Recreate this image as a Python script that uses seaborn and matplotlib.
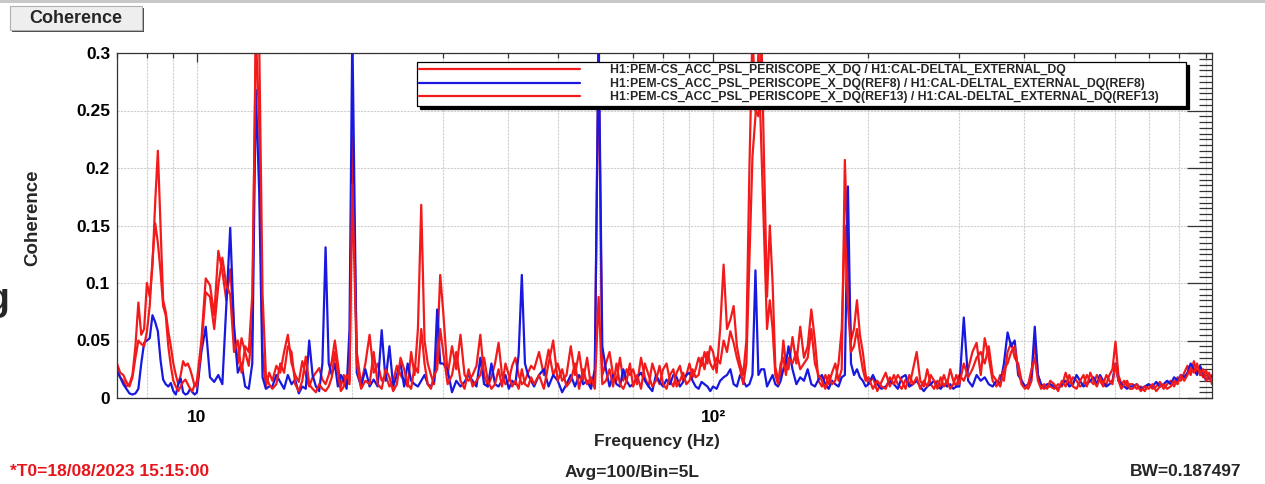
import matplotlib
matplotlib.use("Agg")
import matplotlib.pyplot as plt
import numpy as np
import pandas as pd
import seaborn as sns
from matplotlib.lines import Line2D
from matplotlib.patches import Rectangle
from matplotlib.ticker import (FixedLocator, FixedFormatter, LogLocator,
                               NullFormatter, MultipleLocator)
from matplotlib.legend_handler import HandlerLine2D

# ---------------- data ----------------
FREQ = [
    7.0, 7.1, 7.2, 7.3, 7.4, 7.5, 7.6, 7.7, 7.8, 7.9, 8.0, 8.1, 8.2, 8.3, 8.4,
    8.5, 8.6, 8.7, 8.8, 8.9, 9.0, 9.1, 9.2, 9.3, 9.4, 9.5, 9.6, 9.7, 9.8, 9.9,
    10.0, 10.2, 10.4, 10.6, 10.8, 11.0, 11.2, 11.4, 11.6, 11.8, 12.0, 12.2,
    12.4, 12.6, 12.8, 13.0, 13.2, 13.4, 13.6, 13.8,
    14.0, 14.25, 14.5, 14.75, 15.0, 15.25, 15.5, 15.75, 16.0, 16.25, 16.5,
    16.75, 17.0, 17.25, 17.5, 17.75, 18.0, 18.25, 18.5, 18.75, 19.0, 19.25,
    19.5, 19.75,
    20.0, 20.4, 20.8, 21.2, 21.6, 22.0, 22.4, 22.8, 23.2, 23.6, 24.0, 24.4,
    24.8, 25.2, 25.6, 26.0, 26.4, 26.8, 27.2, 27.6, 28.0, 28.4, 28.8, 29.2, 29.6,
    30.0, 30.6, 31.2, 31.8, 32.4, 33.0, 33.6, 34.2, 34.8, 35.4, 36.0, 36.6,
    37.2, 37.8, 38.4, 39.0, 39.6, 40.2, 40.8, 41.4, 42.0, 42.6, 43.2, 43.8, 44.4,
    45, 46, 47, 48, 49, 50, 51, 52, 53, 54, 55, 56, 57, 58, 59, 60, 61, 62, 63,
    64, 65, 66, 67, 68, 69,
    70.0, 71.25, 72.5, 73.75, 75.0, 76.25, 77.5, 78.75, 80.0, 81.25, 82.5,
    83.75, 85.0, 86.25, 87.5, 88.75, 90.0, 91.25, 92.5, 93.75, 95.0, 96.25,
    97.5, 98.75,
    100.0, 101.6, 103.2, 104.8, 106.4, 108.0, 109.6, 111.2, 112.8, 114.4,
    116.0, 117.6, 119.2, 120.8, 122.4, 124.0, 125.6, 127.2, 128.8, 130.4,
    132.0, 133.6, 135.2, 136.8, 138.4,
    140.0, 142.5, 145.0, 147.5, 150.0, 152.5, 155.0, 157.5, 160.0, 162.5,
    165.0, 167.5, 170.0, 172.5, 175.0, 177.5, 180.0, 182.5, 185.0, 187.5,
    190.0, 192.5, 195.0, 197.5,
    200, 204, 208, 212, 216, 220, 224, 228, 232, 236, 240, 244, 248, 252, 256,
    260, 264, 268, 272, 276, 280, 284, 288, 292, 296,
    300, 306, 312, 318, 324, 330, 336, 342, 348, 354, 360, 366, 372, 378, 384,
    390, 396, 402, 408, 414, 420, 426, 432, 438, 444,
    450, 458, 466, 474, 482, 490, 498, 506, 514, 522, 530, 538, 546, 554, 562,
    570, 578, 586, 594, 602, 610, 618, 626, 634, 642,
    650, 662, 674, 686, 698, 710, 722, 734, 746, 758, 770, 782, 794, 806, 818,
    830, 842, 854, 866, 878, 890, 902, 914, 926,
]

COH_NOW = [
    0.024, 0.018, 0.015, 0.010, 0.012, 0.020, 0.045, 0.083, 0.055, 0.060,
    0.100, 0.088, 0.115, 0.170, 0.215, 0.150, 0.085, 0.075, 0.058, 0.045,
    0.030, 0.020, 0.012, 0.020, 0.032, 0.028, 0.030, 0.025, 0.018, 0.010,
    0.015, 0.050, 0.104, 0.098, 0.072, 0.128, 0.110, 0.085, 0.112, 0.062,
    0.030, 0.052, 0.040, 0.028, 0.060, 0.320, 0.240, 0.040, 0.010, 0.022,
    0.015, 0.028, 0.022, 0.040, 0.055, 0.030, 0.020, 0.014, 0.032, 0.020,
    0.010, 0.018, 0.022, 0.026, 0.016, 0.012, 0.020, 0.032, 0.050, 0.030,
    0.010, 0.020, 0.014, 0.012,
    0.228, 0.040, 0.012, 0.030, 0.055, 0.022, 0.030, 0.015, 0.020, 0.010,
    0.015, 0.028, 0.020, 0.015, 0.010, 0.040, 0.020, 0.060, 0.168, 0.050,
    0.030, 0.020, 0.012, 0.040, 0.107,
    0.075, 0.020, 0.045, 0.025, 0.055, 0.020, 0.015, 0.020, 0.028, 0.055,
    0.020, 0.010, 0.018, 0.030, 0.048, 0.020, 0.012, 0.015, 0.028, 0.035,
    0.020, 0.012, 0.015, 0.022, 0.028,
    0.025, 0.040, 0.020, 0.042, 0.020, 0.030, 0.015, 0.020, 0.045, 0.020,
    0.040, 0.015, 0.035, 0.010, 0.020, 0.310, 0.020, 0.030, 0.040, 0.020,
    0.015, 0.035, 0.015, 0.025, 0.020,
    0.025, 0.012, 0.035, 0.018, 0.010, 0.030, 0.020, 0.012, 0.025, 0.030,
    0.015, 0.010, 0.022, 0.028, 0.015, 0.020, 0.030, 0.018, 0.025, 0.035,
    0.028, 0.040, 0.030, 0.045,
    0.040, 0.022, 0.060, 0.116, 0.060, 0.068, 0.080, 0.045, 0.030, 0.020,
    0.050, 0.200, 0.320, 0.250, 0.245, 0.320, 0.200, 0.088, 0.150, 0.100,
    0.027, 0.016, 0.020, 0.050, 0.030,
    0.025, 0.053, 0.030, 0.062, 0.035, 0.045, 0.077, 0.050, 0.015, 0.010,
    0.020, 0.012, 0.022, 0.030, 0.015, 0.025, 0.207, 0.120, 0.050, 0.060,
    0.085, 0.055, 0.040, 0.020,
    0.012, 0.018, 0.006, 0.014, 0.022, 0.010, 0.020, 0.012, 0.008, 0.016,
    0.010, 0.025, 0.040, 0.015, 0.010, 0.025, 0.012, 0.008, 0.015, 0.010,
    0.020, 0.012, 0.025, 0.015, 0.010,
    0.020, 0.015, 0.025, 0.040, 0.048, 0.020, 0.052, 0.035, 0.015, 0.010,
    0.020, 0.015, 0.040, 0.048, 0.035, 0.030, 0.015, 0.010, 0.008, 0.015,
    0.050, 0.020, 0.010, 0.008, 0.010,
    0.010, 0.008, 0.012, 0.010, 0.022, 0.012, 0.018, 0.015, 0.010, 0.012,
    0.020, 0.015, 0.012, 0.020, 0.015, 0.010, 0.012, 0.020, 0.025, 0.049,
    0.020, 0.012, 0.015, 0.010, 0.012,
    0.012, 0.008, 0.010, 0.006, 0.012, 0.008, 0.010, 0.014, 0.008, 0.012,
    0.015, 0.010, 0.018, 0.015, 0.022, 0.028, 0.020, 0.032, 0.022, 0.026,
    0.018, 0.024, 0.016, 0.020,
]

COH_REF8 = [
    0.024, 0.018, 0.012, 0.008, 0.004, 0.003, 0.004, 0.008, 0.030, 0.048,
    0.050, 0.052, 0.072, 0.066, 0.058, 0.033, 0.016, 0.012, 0.010, 0.013,
    0.006, 0.003, 0.012, 0.017, 0.005, 0.003, 0.004, 0.008, 0.005, 0.003,
    0.005, 0.040, 0.062, 0.018, 0.014, 0.020, 0.012, 0.080, 0.148, 0.060,
    0.022, 0.030, 0.010, 0.008, 0.030, 0.268, 0.180, 0.018, 0.008, 0.010,
    0.010, 0.020, 0.014, 0.008, 0.020, 0.012, 0.016, 0.004, 0.010, 0.008,
    0.050, 0.020, 0.010, 0.006, 0.030, 0.131, 0.030, 0.020, 0.030, 0.010,
    0.020, 0.015, 0.008, 0.060,
    0.320, 0.022, 0.010, 0.025, 0.010, 0.016, 0.010, 0.059, 0.015, 0.045,
    0.010, 0.020, 0.030, 0.010, 0.030, 0.015, 0.012, 0.010, 0.015, 0.020,
    0.012, 0.010, 0.015, 0.077, 0.030,
    0.030, 0.024, 0.005, 0.015, 0.010, 0.014, 0.020, 0.015, 0.010, 0.035,
    0.012, 0.010, 0.030, 0.012, 0.010, 0.015, 0.020, 0.008, 0.015, 0.012,
    0.038, 0.107, 0.030, 0.020, 0.015,
    0.010, 0.020, 0.025, 0.010, 0.020, 0.015, 0.005, 0.012, 0.020, 0.010,
    0.020, 0.012, 0.015, 0.008, 0.025, 0.320, 0.045, 0.025, 0.010, 0.020,
    0.012, 0.010, 0.025, 0.015, 0.010,
    0.012, 0.018, 0.022, 0.015, 0.010, 0.006, 0.020, 0.014, 0.010, 0.016,
    0.012, 0.020, 0.018, 0.010, 0.014, 0.020, 0.022, 0.015, 0.010, 0.008,
    0.014, 0.012, 0.010, 0.006,
    0.010, 0.008, 0.015, 0.018, 0.020, 0.025, 0.012, 0.010, 0.020, 0.015,
    0.010, 0.012, 0.020, 0.111, 0.020, 0.025, 0.025, 0.010, 0.015, 0.020,
    0.012, 0.010, 0.015, 0.025, 0.030,
    0.045, 0.025, 0.012, 0.018, 0.015, 0.025, 0.012, 0.010, 0.016, 0.020,
    0.012, 0.008, 0.015, 0.012, 0.010, 0.018, 0.020, 0.184, 0.030, 0.020,
    0.025, 0.018, 0.015, 0.010,
    0.012, 0.020, 0.012, 0.008, 0.010, 0.015, 0.012, 0.008, 0.018, 0.020,
    0.010, 0.012, 0.015, 0.010, 0.006, 0.010, 0.012, 0.015, 0.010, 0.008,
    0.012, 0.010, 0.012, 0.008, 0.010,
    0.010, 0.070, 0.015, 0.010, 0.020, 0.015, 0.018, 0.012, 0.010, 0.015,
    0.012, 0.030, 0.057, 0.045, 0.050, 0.020, 0.015, 0.010, 0.012, 0.020,
    0.062, 0.020, 0.012, 0.010, 0.012,
    0.012, 0.010, 0.008, 0.012, 0.015, 0.010, 0.012, 0.020, 0.015, 0.010,
    0.012, 0.015, 0.018, 0.012, 0.020, 0.015, 0.010, 0.012, 0.015, 0.030,
    0.015, 0.012, 0.010, 0.008, 0.010,
    0.010, 0.012, 0.008, 0.010, 0.012, 0.010, 0.014, 0.010, 0.012, 0.015,
    0.012, 0.018, 0.015, 0.020, 0.018, 0.022, 0.030, 0.025, 0.020, 0.028,
    0.022, 0.015, 0.020, 0.018,
]

COH_REF13 = [
    0.030, 0.022, 0.020, 0.014, 0.010, 0.018, 0.035, 0.050, 0.047, 0.045,
    0.058, 0.080, 0.120, 0.152, 0.135, 0.110, 0.080, 0.072, 0.045, 0.028,
    0.015, 0.010, 0.006, 0.010, 0.014, 0.016, 0.012, 0.008, 0.006, 0.012,
    0.010, 0.045, 0.092, 0.088, 0.060, 0.098, 0.122, 0.098, 0.090, 0.040,
    0.050, 0.022, 0.045, 0.040, 0.090, 0.300, 0.310, 0.090, 0.020, 0.012,
    0.008, 0.012, 0.030, 0.022, 0.045, 0.040, 0.012, 0.006, 0.015, 0.036,
    0.012, 0.008, 0.005, 0.012, 0.008, 0.006, 0.010, 0.018, 0.040, 0.022,
    0.006, 0.010, 0.020, 0.015,
    0.186, 0.030, 0.008, 0.015, 0.012, 0.040, 0.012, 0.008, 0.025, 0.018,
    0.006, 0.012, 0.035, 0.025, 0.012, 0.008, 0.028, 0.022, 0.060, 0.030,
    0.012, 0.008, 0.020, 0.025, 0.060,
    0.040, 0.012, 0.020, 0.040, 0.015, 0.008, 0.025, 0.010, 0.015, 0.020,
    0.035, 0.015, 0.008, 0.012, 0.025, 0.010, 0.030, 0.020, 0.010, 0.015,
    0.008, 0.025, 0.012, 0.010, 0.018,
    0.012, 0.020, 0.008, 0.030, 0.050, 0.015, 0.025, 0.010, 0.015, 0.030,
    0.008, 0.025, 0.012, 0.018, 0.008, 0.088, 0.012, 0.015, 0.025, 0.010,
    0.030, 0.012, 0.008, 0.015, 0.030,
    0.010, 0.020, 0.008, 0.030, 0.020, 0.010, 0.015, 0.028, 0.012, 0.008,
    0.020, 0.025, 0.010, 0.015, 0.022, 0.012, 0.015, 0.025, 0.018, 0.020,
    0.035, 0.025, 0.040, 0.030,
    0.025, 0.035, 0.030, 0.050, 0.040, 0.058, 0.048, 0.035, 0.025, 0.012,
    0.030, 0.120, 0.210, 0.245, 0.300, 0.220, 0.140, 0.060, 0.085, 0.060,
    0.020, 0.012, 0.030, 0.035, 0.020,
    0.035, 0.030, 0.040, 0.025, 0.030, 0.035, 0.060, 0.030, 0.020, 0.015,
    0.008, 0.020, 0.012, 0.015, 0.030, 0.060, 0.150, 0.080, 0.040, 0.045,
    0.060, 0.040, 0.025, 0.015,
    0.018, 0.008, 0.015, 0.010, 0.008, 0.018, 0.012, 0.020, 0.015, 0.008,
    0.020, 0.012, 0.018, 0.008, 0.015, 0.010, 0.020, 0.015, 0.008, 0.018,
    0.010, 0.015, 0.008, 0.012, 0.020,
    0.012, 0.030, 0.018, 0.025, 0.035, 0.040, 0.030, 0.045, 0.020, 0.015,
    0.010, 0.025, 0.030, 0.040, 0.045, 0.025, 0.012, 0.008, 0.012, 0.025,
    0.035, 0.015, 0.008, 0.012, 0.008,
    0.015, 0.012, 0.006, 0.015, 0.010, 0.020, 0.010, 0.008, 0.015, 0.020,
    0.010, 0.022, 0.015, 0.010, 0.018, 0.012, 0.020, 0.015, 0.012, 0.030,
    0.015, 0.008, 0.012, 0.015, 0.008,
    0.008, 0.012, 0.006, 0.010, 0.008, 0.012, 0.006, 0.010, 0.012, 0.008,
    0.010, 0.015, 0.012, 0.020, 0.015, 0.020, 0.026, 0.022, 0.030, 0.020,
    0.025, 0.015, 0.022, 0.012,
]

LABELS = [
    "H1:PEM-CS_ACC_PSL_PERISCOPE_X_DQ / H1:CAL-DELTAL_EXTERNAL_DQ",
    "H1:PEM-CS_ACC_PSL_PERISCOPE_X_DQ(REF8) / H1:CAL-DELTAL_EXTERNAL_DQ(REF8)",
    "H1:PEM-CS_ACC_PSL_PERISCOPE_X_DQ(REF13) / H1:CAL-DELTAL_EXTERNAL_DQ(REF13)",
]
COLORS = ["#f21a1a", "#1818e0", "#f21a1a"]
X_TICKS = [10, 100]
X_TICK_LABELS = ["10", "10²"]
Y_TICKS = [0, 0.05, 0.1, 0.15, 0.2, 0.25, 0.3]
Y_TICK_LABELS = ["0", "0.05", "0.1", "0.15", "0.2", "0.25", "0.3"]

assert len(FREQ) == len(COH_NOW) == len(COH_REF8) == len(COH_REF13)

# ---------------- style ----------------
sns.set_style("white")
plt.rcParams["font.family"] = ["Liberation Sans", "DejaVu Sans"]
plt.rcParams["font.weight"] = "bold"

W, H = 1265, 484
fig = plt.figure(figsize=(W / 100, H / 100), dpi=100)
fig.patch.set_facecolor("white")

L, R, T, B = 117, 1212, 53, 398
ax = fig.add_axes([L / W, 1 - B / H, (R - L) / W, (B - T) / H])
ax.set_xscale("log")

df = pd.concat(
    [pd.DataFrame({"freq": FREQ, "coh": vals, "trace": lab})
     for lab, vals in zip(LABELS, [COH_NOW, COH_REF8, COH_REF13])],
    ignore_index=True)

sns.lineplot(data=df, x="freq", y="coh", hue="trace", hue_order=LABELS,
             palette=dict(zip(LABELS, COLORS)), estimator=None, sort=False,
             linewidth=1.6, legend=False, ax=ax)

ax.set_xlim(7.0, 926)
ax.set_ylim(0, 0.3)

# ticks
ax.xaxis.set_major_locator(FixedLocator(X_TICKS))
ax.xaxis.set_major_formatter(FixedFormatter(X_TICK_LABELS))
ax.xaxis.set_minor_locator(LogLocator(base=10, subs=np.arange(2, 10)))
ax.xaxis.set_minor_formatter(NullFormatter())
ax.yaxis.set_major_locator(FixedLocator(Y_TICKS))
ax.yaxis.set_major_formatter(FixedFormatter(Y_TICK_LABELS))
ax.yaxis.set_minor_locator(MultipleLocator(0.005))

ax.tick_params(axis="both", which="both", direction="in", top=True,
               right=True, colors="#333333", width=0.9)
ax.tick_params(axis="x", which="major", length=6.5, pad=8.5,
               labelsize=12.5, labelcolor="black")
ax.tick_params(axis="x", which="minor", length=3.8)
ax.tick_params(axis="y", which="major", length=18, pad=5,
               labelsize=12.5, labelcolor="black")
ax.tick_params(axis="y", which="minor", length=9.5)
for lab in ax.get_xticklabels() + ax.get_yticklabels():
    lab.set_fontweight("bold")

ax.grid(True, axis="x", which="both", color="#cfcfcf", linewidth=0.8,
        linestyle=(0, (2, 1)))
ax.grid(True, axis="y", which="major", color="#cfcfcf", linewidth=0.8,
        linestyle=(0, (2, 1)))
ax.set_axisbelow(True)
for sp in ax.spines.values():
    sp.set_color("#333333")
    sp.set_linewidth(0.9)

ax.set_xlabel("Frequency (Hz)", fontsize=12.5, fontweight="bold")
ax.xaxis.set_label_coords((657 - L) / (R - L), (B - 434) / (B - T))
ax.set_ylabel("Coherence", fontsize=13.5, fontweight="bold")
ax.yaxis.set_label_coords((41 - L) / (R - L), (B - 218) / (B - T))


# legend with a leading gap before each line sample
class LeadLine(HandlerLine2D):
    def __init__(self, lead, **kw):
        super().__init__(**kw)
        self.lead = lead

    def create_artists(self, legend, orig_handle, xdescent, ydescent,
                       width, height, fontsize, trans):
        arts = super().create_artists(legend, orig_handle, xdescent,
                                      ydescent, width, height, fontsize, trans)
        for a in arts:
            xd = list(a.get_xdata())
            if len(xd) == 2:
                a.set_xdata([xd[0] + self.lead, xd[1]])
        return arts


handles = [Line2D([], [], color=c, lw=1.6) for c in COLORS]
leg_fs = 8.8
leg = ax.legend(handles, LABELS, loc="upper left",
                bbox_to_anchor=((417 - L) / (R - L), (B - 62) / (B - T),
                                (1186 - 417) / (R - L), 0),
                mode="expand", borderaxespad=0, borderpad=0.2,
                labelspacing=0.12, handlelength=13.1, handletextpad=2.45,
                fancybox=False, framealpha=1, edgecolor="black",
                shadow={"color": "black", "alpha": 1.0, "ox": 2.2, "oy": -2.4},
                prop={"family": "Liberation Sans", "weight": "bold",
                      "size": leg_fs},
                handler_map={Line2D: LeadLine(18.5)})
leg.get_frame().set_linewidth(0.9)

# ---------------- surrounding annotations ----------------
# top grey canvas border
fig.add_artist(Rectangle((0, 1 - 3 / H), 1, 3 / H, transform=fig.transFigure,
                         facecolor="#c8c8c8", edgecolor="none"))
# "Coherence" button
bx0, bx1, by0, by1 = 10, 142, 6, 30
fig.add_artist(Rectangle((bx0 / W + 2 / W, 1 - (by1 + 2) / H),
                         (bx1 - bx0) / W, (by1 - by0) / H,
                         transform=fig.transFigure, facecolor="#4a4a4a",
                         edgecolor="none"))
fig.add_artist(Rectangle((bx0 / W, 1 - by1 / H), (bx1 - bx0) / W,
                         (by1 - by0) / H, transform=fig.transFigure,
                         facecolor="#eeeeee", edgecolor="#b0b0b0",
                         linewidth=0.8))
fig.text((bx0 + bx1) / 2 / W, 1 - 18.5 / H, "Coherence", ha="center",
         va="center", fontsize=13, fontweight="bold")

# partly visible glyph at the far left edge (as in the reference)
fig.text(9 / W, 1 - 310 / H, "g", ha="right", va="baseline", fontsize=27,
         fontweight="bold")

# footer
fig.text(10 / W, 1 - 472 / H, "*T0=18/08/2023 15:15:00", ha="left",
         va="center", fontsize=12.5, fontweight="bold", color="#e8141c")
fig.text(632 / W, 1 - 472 / H, "Avg=100/Bin=5L", ha="center", va="center",
         fontsize=12.5, fontweight="bold")
fig.text(1241 / W, 1 - 472 / H, "BW=0.187497", ha="right", va="center",
         fontsize=12.5, fontweight="bold")

fig.savefig("out.png", dpi=100, facecolor="white")
